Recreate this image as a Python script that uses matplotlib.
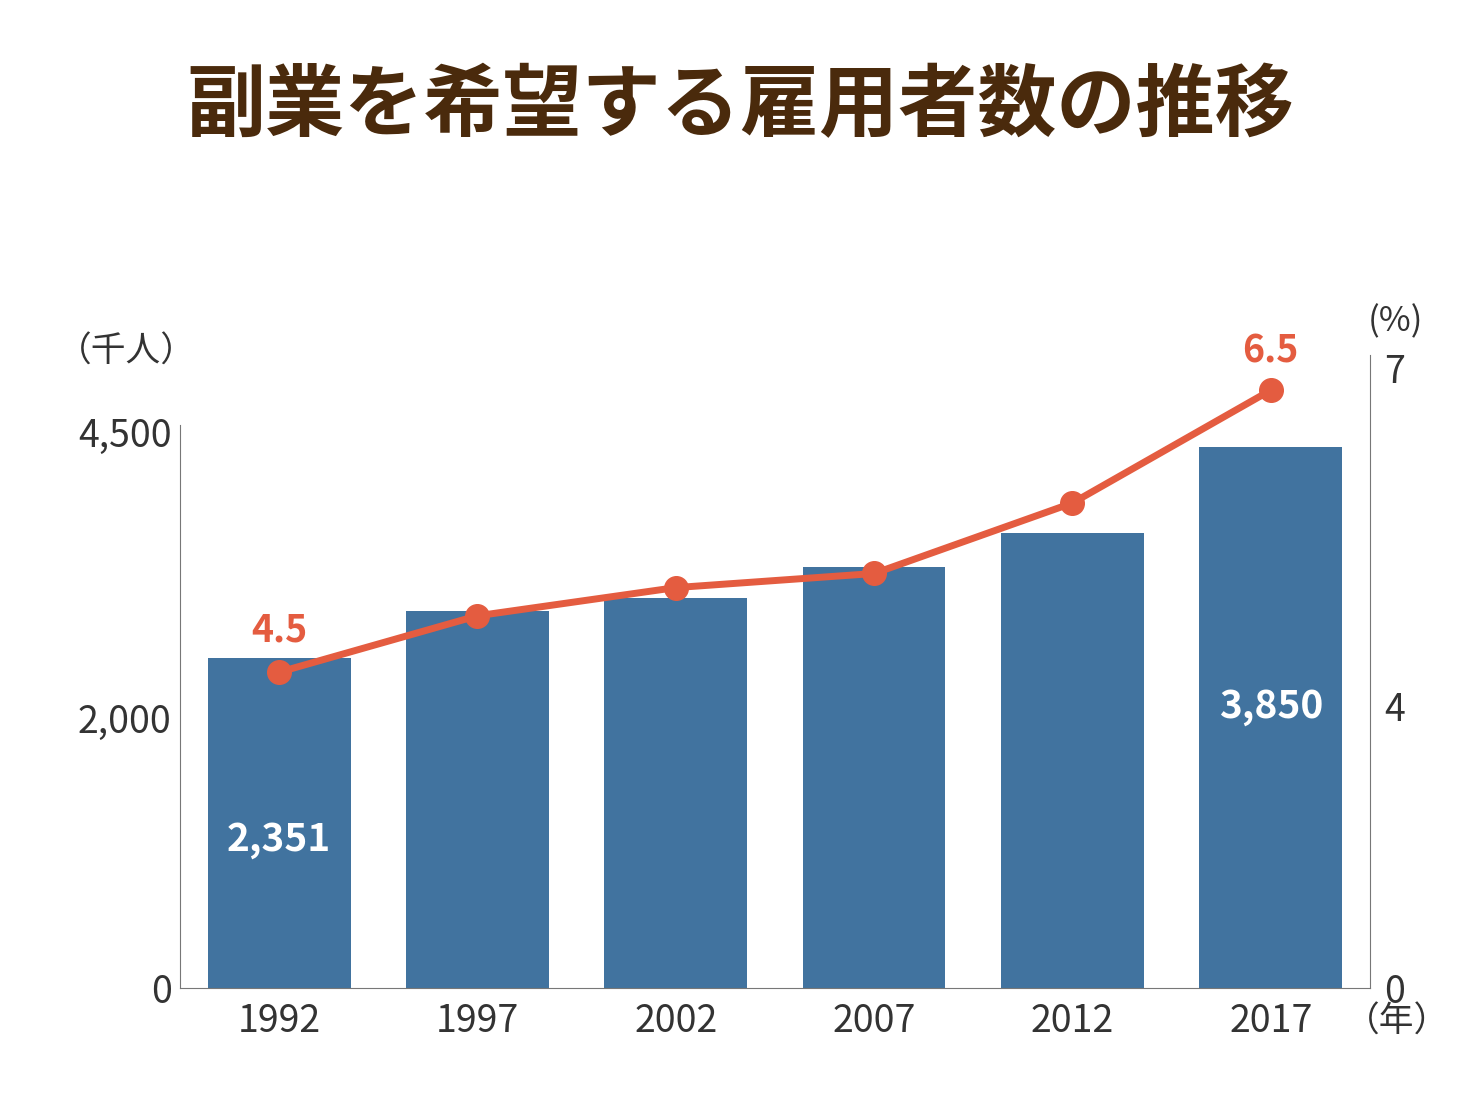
import matplotlib
matplotlib.use("Agg")
import matplotlib.pyplot as plt

plt.rcParams["font.family"] = "Noto Sans CJK JP"

years = ["1992", "1997", "2002", "2007", "2012", "2017"]
workers = [2351, 2685, 2777, 2998, 3240, 3850]   # thousand people
ratio = [4.5, 4.9, 5.1, 5.2, 5.7, 6.5]            # percent

bar_col = "#41739f"
line_col = "#e45c40"
txt_col = "#333333"

fig = plt.figure(figsize=(14.81, 11.18), dpi=100)
ax = fig.add_axes([0.1215, 0.1163, 0.8035, 0.5662])
x = range(len(years))
ax.bar(x, workers, width=0.72, color=bar_col)
ax.set_xlim(-0.5, 5.5)
ax.set_ylim(0, 4507)
# tick positions follow the reference's (non-linear) labelling
ax.set_yticks([0, 1922, 3960], ["0", "2,000", "4,500"])
ax.set_xticks(list(x), years)
ax.tick_params(axis="y", length=0, labelsize=27, colors=txt_col, pad=6)
ax.tick_params(axis="x", length=0, labelsize=27, colors=txt_col, pad=10)
for s in ["top", "right"]:
    ax.spines[s].set_visible(False)
ax.spines["left"].set_bounds(0, 4009)
for s in ["left", "bottom"]:
    ax.spines[s].set_color("#777777")

ax2 = ax.twinx()
ax2.plot(x, ratio, color=line_col, lw=5, marker="o", ms=17, zorder=3)
ax2.set_ylim(2.26, 6.75)
ax2.set_yticks([2.26, 4.26, 6.66], ["0", "4", "7"])
ax2.tick_params(axis="y", length=0, labelsize=27, colors=txt_col, pad=10)
for s in ["top", "left", "bottom"]:
    ax2.spines[s].set_visible(False)
ax2.spines["right"].set_color("#777777")

ax.text(0, workers[0] * 0.45, f"{workers[0]:,}", color="white", fontsize=28,
        fontweight="bold", ha="center", va="center")
ax.text(5, workers[5] * 0.52, f"{workers[5]:,}", color="white", fontsize=28,
        fontweight="bold", ha="center", va="center")
ax2.text(0, ratio[0] + 0.3, f"{ratio[0]}", color=line_col, fontsize=27,
         fontweight="bold", ha="center", va="center")
ax2.text(5, ratio[5] + 0.28, f"{ratio[5]}", color=line_col, fontsize=27,
         fontweight="bold", ha="center", va="center")

fig.text(0.5, 0.905, "副業を希望する雇用者数の推移", ha="center", va="center",
         fontsize=57, fontweight="bold", color="#4a2a0c")
fig.text(0.085, 0.685, "（千人）", ha="center", va="center", fontsize=25, color=txt_col)
fig.text(0.942, 0.712, "(%)", ha="center", va="center", fontsize=25, color=txt_col)
fig.text(0.943, 0.086, "（年）", ha="center", va="center", fontsize=25, color=txt_col)

fig.savefig("out.png", dpi=100, facecolor="white")
